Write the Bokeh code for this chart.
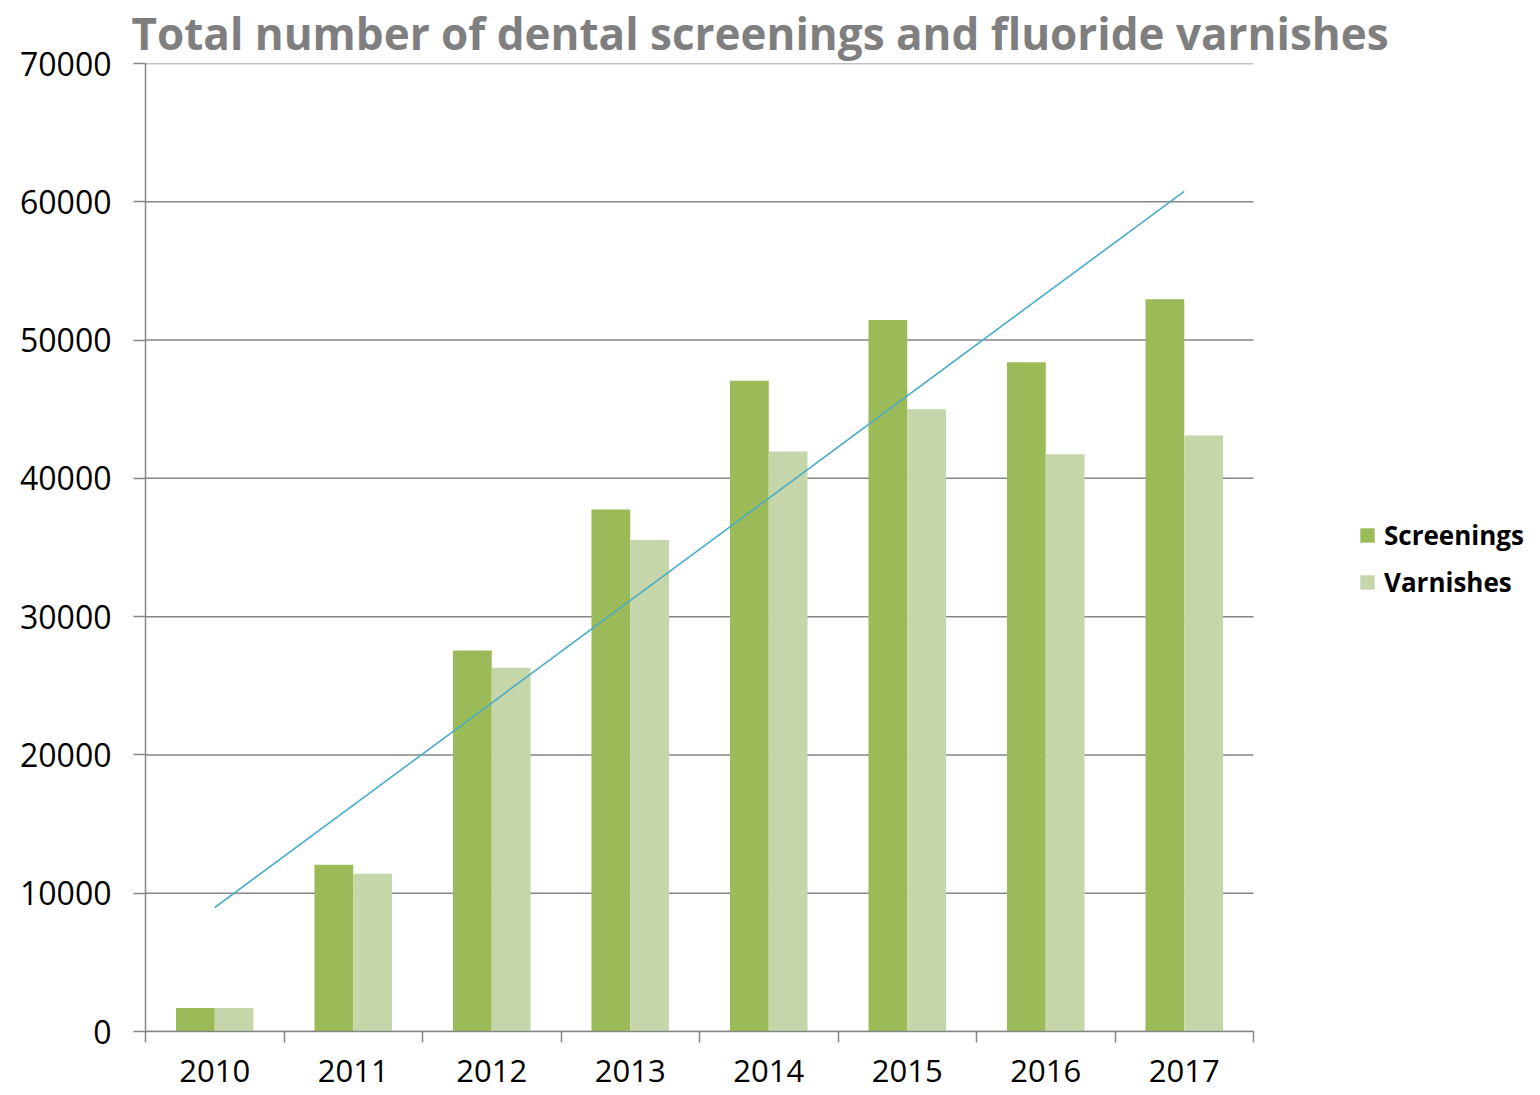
import numpy as np
from bokeh.plotting import figure
from bokeh.models import Range1d, FixedTicker, Legend, LegendItem, ColumnDataSource
from bokeh.embed import file_html
from bokeh.resources import INLINE

years = ["2010", "2011", "2012", "2013", "2014", "2015", "2016", "2017"]
screenings = [1700, 12050, 27550, 37750, 47050, 51450, 48400, 52950]
varnishes = [1700, 11400, 26300, 35550, 41950, 45000, 41750, 43100]
y_ticks = [0, 10000, 20000, 30000, 40000, 50000, 60000, 70000]

FONT = "Open Sans"
n = len(years)
idx = np.arange(n)
centers = idx + 0.5
bw = 0.28

src = ColumnDataSource(dict(
    xs=centers - bw / 2, xv=centers + bw / 2,
    s=screenings, v=varnishes))

# frame extends to the right to hold the legend; axis & grid are bounded to the categories
p = figure(width=1530, height=1095, output_backend="svg", toolbar_location=None,
           x_range=Range1d(0, n + 2), y_range=Range1d(0, 70000),
           min_border_left=145, min_border_right=0, min_border_top=0, min_border_bottom=64)
p.outline_line_color = None
p.background_fill_color = "white"

p.title.text = "Total number of dental screenings and fluoride varnishes"
p.title.text_font = FONT
p.title.text_font_size = "44px"
p.title.text_font_style = "bold"
p.title.text_color = "#7F7F7F"
p.title.offset = -14
p.title.standoff = 1

# horizontal grid lines limited to the category area
p.segment(x0=[0] * len(y_ticks), x1=[n] * len(y_ticks), y0=y_ticks, y1=y_ticks,
          line_color="#868686", line_width=1.5)

rs = p.vbar(x="xs", top="s", width=bw, source=src, fill_color="#9BBB59", line_color=None)
rv = p.vbar(x="xv", top="v", width=bw, source=src, fill_color="#C5D7AA", line_color=None)

# linear trendline of screenings
coef = np.polyfit(idx, screenings, 1)
p.line(x=[centers[0], centers[-1]], y=list(np.polyval(coef, [idx[0], idx[-1]])),
       line_color="#4BACC6", line_width=1.6)

# y axis
p.yaxis.ticker = FixedTicker(ticks=y_ticks)
p.yaxis.axis_line_color = "#868686"
p.yaxis.axis_line_width = 1.5
p.yaxis.major_tick_line_color = "#868686"
p.yaxis.major_tick_line_width = 1.5
p.yaxis.major_tick_out = 12
p.yaxis.major_tick_in = 0
p.yaxis.minor_tick_line_color = None
p.yaxis.major_label_text_font = FONT
p.yaxis.major_label_text_font_size = "32px"
p.yaxis.major_label_text_color = "black"
p.yaxis.major_label_standoff = 22
p.yaxis[0].formatter.use_scientific = False

p.ygrid.grid_line_color = None
p.xgrid.grid_line_color = None

# x axis: labels at centers, ticks at category boundaries
p.xaxis.bounds = (0, n)
p.xaxis.ticker = FixedTicker(ticks=list(centers), minor_ticks=list(range(n + 1)))
p.xaxis.major_label_overrides = {float(c): y for c, y in zip(centers, years)}
p.xaxis.axis_line_color = "#868686"
p.xaxis.axis_line_width = 1.5
p.xaxis.major_tick_line_color = None
p.xaxis.minor_tick_line_color = "#868686"
p.xaxis.minor_tick_line_width = 1.5
p.xaxis.minor_tick_out = 11
p.xaxis.minor_tick_in = 0
p.xaxis.major_label_text_font = FONT
p.xaxis.major_label_text_font_size = "31px"
p.xaxis.major_label_text_color = "black"
p.xaxis.major_label_standoff = 17

legend = Legend(items=[LegendItem(label="Screenings", renderers=[rs]),
                       LegendItem(label="Varnishes", renderers=[rv])],
                location=(1213, 431), orientation="vertical")
legend.label_text_font = FONT
legend.label_text_font_size = "26px"
legend.label_text_font_style = "bold"
legend.label_text_color = "black"
legend.glyph_height = 18
legend.glyph_width = 18
legend.label_height = 36
legend.spacing = 11
legend.label_standoff = 8
legend.padding = 0
legend.margin = 0
legend.border_line_color = None
legend.background_fill_alpha = 0
p.add_layout(legend, "center")

open("out.html", "w").write(file_html(p, INLINE))
